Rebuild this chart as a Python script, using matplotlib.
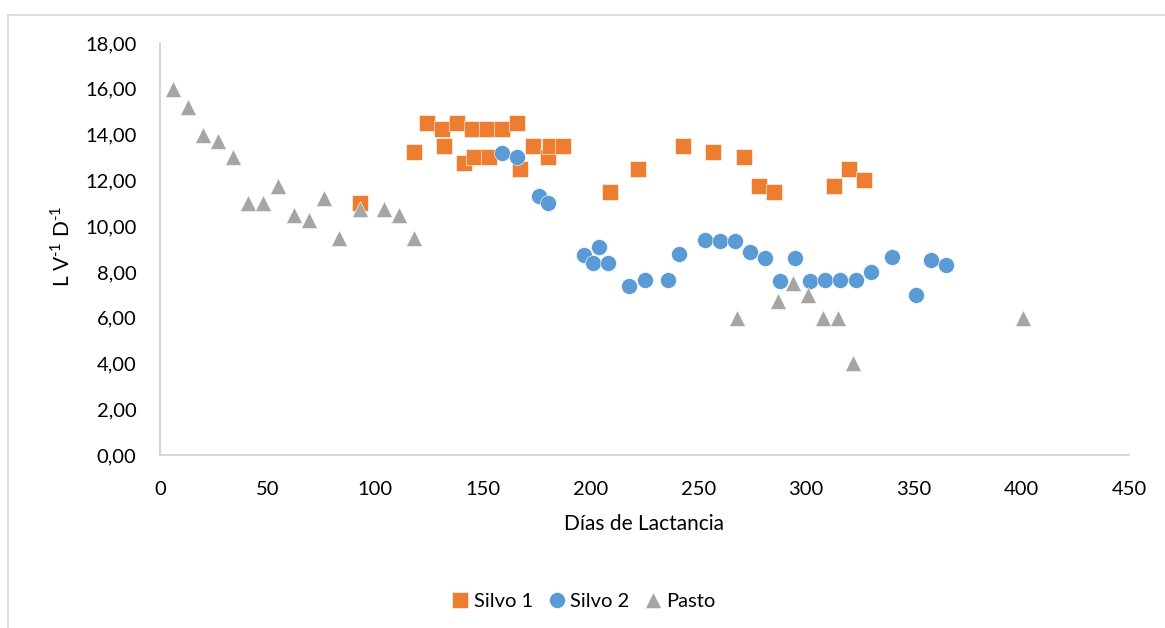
import matplotlib
matplotlib.use("Agg")
import matplotlib.pyplot as plt
from matplotlib.lines import Line2D
from matplotlib.ticker import FuncFormatter

silvo1_x = [93, 118, 124, 131, 132, 138, 141, 145, 146, 152, 153, 159, 166, 167,
            173, 180, 181, 187, 209, 222, 243, 257, 271, 278, 285, 313, 320, 327]
silvo1_y = [11.0, 13.25, 14.5, 14.25, 13.5, 14.5, 12.75, 14.25, 13.0, 14.25, 13.0, 14.25, 14.5, 12.5,
            13.5, 13.0, 13.5, 13.5, 11.5, 12.5, 13.5, 13.25, 13.0, 11.75, 11.5, 11.75, 12.5, 12.0]

silvo2_x = [159, 166, 176, 180, 197, 201, 204, 208, 218, 225, 236, 241, 253, 260, 267,
            274, 281, 288, 295, 302, 309, 316, 323, 330, 340, 351, 358, 365]
silvo2_y = [13.2, 13.0, 11.3, 11.0, 8.75, 8.4, 9.1, 8.4, 7.4, 7.65, 7.65, 8.8, 9.4, 9.35, 9.35,
            8.85, 8.6, 7.6, 8.6, 7.6, 7.65, 7.65, 7.65, 8.0, 8.65, 7.0, 8.5, 8.3]

pasto_x = [6, 13, 20, 27, 34, 41, 48, 55, 62, 69, 76, 83, 93, 104, 111, 118,
           268, 287, 294, 301, 308, 315, 322, 401]
pasto_y = [16.0, 15.2, 14.0, 13.7, 13.0, 11.0, 11.0, 11.75, 10.5, 10.25, 11.25, 9.5, 10.75, 10.75, 10.5, 9.5,
           6.0, 6.75, 7.5, 7.0, 6.0, 6.0, 4.0, 6.0]

x_ticks = [0, 50, 100, 150, 200, 250, 300, 350, 400, 450]
y_ticks = [0, 2, 4, 6, 8, 10, 12, 14, 16, 18]

plt.rcParams['font.family'] = ['Lato', 'DejaVu Sans']
plt.rcParams['mathtext.fontset'] = 'custom'
plt.rcParams['mathtext.rm'] = 'Lato'

W, H = 1165, 628
fig = plt.figure(figsize=(W / 100, H / 100), dpi=100)
ax = fig.add_axes([160 / W, 1 - 455 / H, (1129 - 160) / W, (455 - 43) / H])

ms = 11
ax.plot(silvo1_x, silvo1_y, linestyle='none', marker='s', markersize=ms,
        color='#ED7D31', markeredgecolor='white', markeredgewidth=0.4, label='Silvo 1', zorder=3)
ax.plot(silvo2_x, silvo2_y, linestyle='none', marker='o', markersize=ms + 0.5,
        color='#5B9BD5', markeredgecolor='white', markeredgewidth=0.4, label='Silvo 2', zorder=3)
ax.plot(pasto_x, pasto_y, linestyle='none', marker='^', markersize=ms,
        color='#A5A5A5', markeredgecolor='white', markeredgewidth=0.4, label='Pasto', zorder=4)

ax.set_xlim(0, 450)
ax.set_ylim(0, 18)
ax.set_xticks(x_ticks)
ax.set_yticks(y_ticks)
ax.yaxis.set_major_formatter(FuncFormatter(lambda v, p: f"{v:.2f}".replace('.', ',')))
ax.tick_params(axis='both', length=0, labelsize=14.5, colors='#000000')
ax.tick_params(axis='x', pad=19)
ax.tick_params(axis='y', pad=17)

for s in ['top', 'right']:
    ax.spines[s].set_visible(False)
for s in ['left', 'bottom']:
    ax.spines[s].set_color('#D0D0D0')
    ax.spines[s].set_linewidth(1.2)

ax.set_xlabel('Días de Lactancia', fontsize=15, labelpad=11)
fig.text(62 / W, 1 - 246 / H, r'L V$^{\text{-}1}$ D$^{\text{-}1}$', rotation=90, fontsize=15,
         ha='center', va='center')

fig.legend(loc='center', bbox_to_anchor=(582 / W, 1 - 601 / H), ncol=3, frameon=False,
           fontsize=14.5, handletextpad=0.05, columnspacing=0.6, handlelength=1.2)

# outer chart border (top and left visible)
fig.add_artist(Line2D([8 / W, 1.0], [1 - 15 / H, 1 - 15 / H], color='#D9D9D9', linewidth=1.2))
fig.add_artist(Line2D([8 / W, 8 / W], [0.0, 1 - 15 / H], color='#D9D9D9', linewidth=1.2))

fig.savefig('out.png', dpi=100, facecolor='white')
